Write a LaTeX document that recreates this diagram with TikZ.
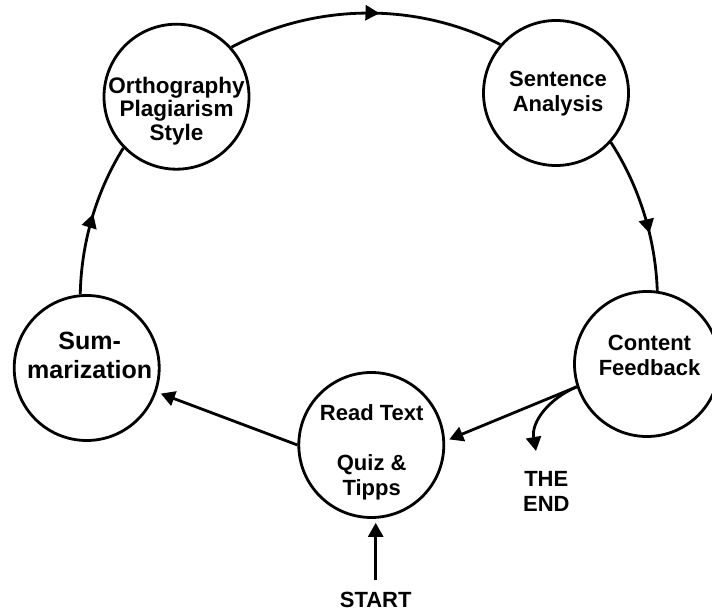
\documentclass[tikz,border=0pt]{standalone}
\usepackage{fontspec}
\setmainfont{Liberation Sans}
\usetikzlibrary{arrows.meta,decorations.markings}
\begin{document}
\begin{tikzpicture}[x=1pt,y=1pt,
  bubble/.style={circle,draw,line width=2.8pt,minimum size=145pt,inner sep=0pt},
  lbl/.style={align=center,inner sep=0pt,font=\bfseries\fontsize{22}{25}\selectfont},
  link/.style={line width=2.8pt,-{Triangle[length=14pt,width=15pt]}},
  flow/.style={line width=2.8pt,postaction={decorate},
    decoration={markings,mark=at position #1 with {\arrow{Triangle[length=14pt,width=15pt]}}}},
]
\useasboundingbox (0,0) rectangle (712,612);

% the five stations of the cycle
\node[bubble] (ortho)   at (176.5,515.3) {};
\node[bubble] (sent)    at (556,519)     {};
\node[bubble] (sum)     at (86.7,244)    {};
\node[bubble] (content) at (647,248)     {};
\node[bubble] (read)    at (371.3,167)   {};

% station texts
\node[lbl,font=\bfseries\fontsize{22.5}{23.5}\selectfont] (orthoT) at (176.6,499.9)
  {\strut Orthography\\Plagiarism\\Style\strut};
\node[lbl] (sentT) at (558,517.6) {\strut Sentence\\Analysis\strut};
\node[lbl,font=\bfseries\fontsize{25}{29}\selectfont] (sumT) at (89.7,253.5)
  {\strut Sum-\\marization\strut};
\node[lbl] (contentT) at (649.5,254.1) {\strut Content\\Feedback\strut};
\node[lbl] (readT) at (371.7,159.1) {\strut Read Text\\\strut\\Quiz \&\\Tipps\strut};

% entry and exit labels
\node[lbl] (endT)  at (546.3,118.2) {\strut THE\\END\strut};
\node[lbl,anchor=base] (start) at (375.7,4.6) {START};
\coordinate (endtip) at (536,161);

% curved links along the outer ring
\draw[flow=0.55] (ortho.42) to[out=28,in=153,looseness=0.9] (sent.139);
\draw[flow=0.63] (sent.-42) to[out=-57,in=92,looseness=0.86] (content.82);
\draw[flow=0.53] (sum.95) to[out=89,in=238,looseness=0.86] (ortho.224);

% straight links
\draw[link,shorten >=4.5pt] (content.198) -- (read.3);
\draw[link,shorten >=4.5pt] (read.west) -- (sum.-19);
\draw[link] (content.198) to[out=203,in=100] (endtip);
\draw[link,shorten <=11.6pt,shorten >=4pt] (start.north) -- (start.north |- read.south);
\end{tikzpicture}
\end{document}
